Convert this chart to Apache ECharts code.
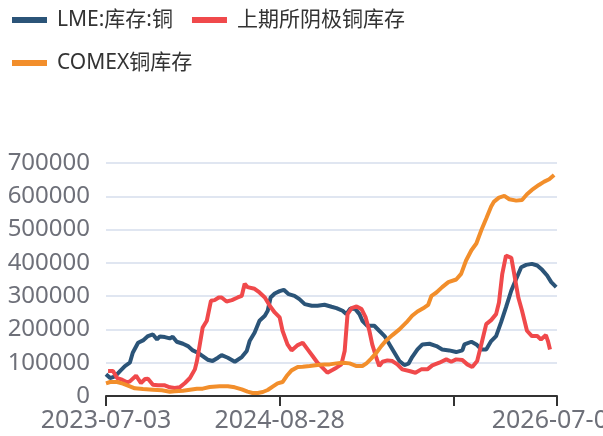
<!DOCTYPE html>
<html>
<head>
<meta charset="utf-8">
<script src="https://cdn.jsdelivr.net/npm/echarts@6/dist/echarts.min.js"></script>
<style>html,body{margin:0;padding:0;background:#fff;}#c{width:603px;height:436px;}</style>
</head>
<body>
<div id="c"></div>
<script>
// Category axis: daily dates from 2023-07-03 to 2026-07-03
const startDate = '2023-07-03';
const dayCount = 1097;
const labelDates = ['2023-07-03', '2024-08-28', '2026-07-03'];
const yTicks = [0, 100000, 200000, 300000, 400000, 500000, 600000, 700000];
const seriesNames = ['LME:库存:铜', '上期所阴极铜库存', 'COMEX铜库存'];

// LME:库存:铜 (day offset from start, value)
const lmeDays = [0,10,22,34,46,58,65,78,90,102,114,124,131,143,155,162,172,187,199,211,223,235,247,259,272,281,296,313,330,342,349,361,373,386,393,400,410,422,432,444,458,470,483,500,514,531,548,560,575,584,594,606,616,623,635,652,664,677,689,701,713,725,735,744,757,769,786,803,817,834,851,866,871,888,900,912,924,936,948,960,972,985,997,1009,1021,1035,1048,1060,1072,1082,1094];
const lmeVals = [65000,54000,59000,75000,90000,100000,130000,160000,167000,180000,185000,170000,179000,177000,173000,178000,163000,157000,150000,137000,130000,120000,109000,105000,115000,123000,115000,103000,117000,135000,165000,190000,226000,241000,256000,296000,308000,315000,319000,306000,301000,291000,276000,271000,271000,274000,268000,264000,256000,246000,263000,261000,246000,226000,211000,211000,196000,180000,155000,130000,105000,93000,97000,117000,140000,155000,157000,150000,140000,137000,132000,137000,155000,163000,155000,140000,140000,165000,180000,221000,266000,317000,352000,387000,394000,397000,392000,379000,362000,342000,327000];

// 上期所阴极铜库存
const shfeDays = [5,17,27,39,51,58,73,85,95,102,114,126,143,155,167,179,192,204,216,221,228,235,245,255,264,274,281,293,306,320,330,337,344,361,373,386,398,410,422,429,441,451,466,478,490,502,514,526,538,550,560,572,580,587,597,609,621,631,640,647,657,664,672,684,696,708,720,737,752,766,781,793,810,827,839,851,866,878,890,902,912,924,936,948,955,963,972,985,992,1002,1011,1023,1035,1048,1057,1069,1074,1079];
const shfeVals = [75000,75000,54000,49000,41000,44000,61000,39000,51000,52000,34000,32000,32000,26000,24000,26000,39000,54000,80000,105000,155000,206000,226000,286000,288000,296000,296000,284000,288000,296000,301000,337000,327000,322000,311000,296000,271000,251000,236000,196000,155000,137000,153000,160000,140000,120000,100000,85000,70000,78000,85000,95000,135000,246000,264000,269000,261000,236000,196000,155000,115000,90000,103000,107000,105000,95000,80000,75000,70000,80000,80000,92000,100000,110000,103000,110000,108000,95000,87000,105000,155000,216000,228000,246000,281000,367000,422000,415000,367000,296000,256000,196000,180000,180000,170000,183000,165000,140000];

// COMEX铜库存
const comexDays = [0,10,27,41,58,70,90,114,136,155,167,187,204,221,235,252,276,296,313,330,344,356,369,381,393,405,417,429,439,451,466,478,495,514,531,543,560,575,592,609,623,633,645,657,669,681,696,713,730,744,757,774,783,791,803,817,832,851,863,875,888,900,912,924,936,943,955,968,980,997,1011,1023,1035,1052,1065,1077,1089];
const comexVals = [38000,42000,42000,37000,29000,23000,21000,19000,17000,13000,14000,16000,19000,22000,22000,27000,29000,29000,26000,20000,13000,9000,9000,12000,18000,28000,38000,42000,60000,77000,87000,88000,90000,93000,95000,95000,98000,100000,98000,90000,90000,98000,113000,130000,150000,167000,183000,200000,221000,241000,254000,266000,274000,301000,311000,327000,342000,350000,367000,407000,438000,458000,498000,533000,569000,584000,596000,601000,591000,587000,589000,606000,619000,634000,644000,651000,664000];

const categories = [];
(function(){
  const d0 = new Date(startDate + 'T00:00:00Z');
  for (let i = 0; i < dayCount; i++) {
    const d = new Date(d0.getTime() + i * 86400000);
    categories.push(d.toISOString().slice(0, 10));
  }
})();
const labelIdx = labelDates.map(s => categories.indexOf(s));
const tickStep = labelIdx[1] - labelIdx[0];

function pairs(days, vals) { return days.map((d, i) => [categories[d], vals[i]]); }

const chart = echarts.init(document.getElementById('c'), null, {renderer: 'canvas'});
const FONT = '"Noto Sans", "Noto Sans CJK SC", sans-serif';
chart.setOption({
  animation: false,
  textStyle: {fontFamily: FONT},
  color: ['#2b5478', '#f0494b', '#f28e2b'],
  legend: {
    left: 7, top: 3, width: 430, itemGap: 19,
    itemWidth: 35, itemHeight: 6, icon: 'rect',
    textStyle: {fontSize: 21, lineHeight: 24, color: '#333', fontFamily: FONT, padding: [0, 0, 0, 5]},
    data: seriesNames
  },
  grid: {left: 106, right: 46, top: 163, bottom: 40, containLabel: false, outerBoundsMode: 'none'},
  xAxis: {
    type: 'category', data: categories, boundaryGap: false,
    axisLine: {lineStyle: {color: '#333', width: 2}},
    axisTick: {length: 10, lineStyle: {color: '#333', width: 2},
      interval: (i) => (i % tickStep === 0) || i === dayCount - 1},
    axisLabel: {fontSize: 25, color: '#6E7079', margin: 12, fontFamily: FONT,
      interval: (i) => labelIdx.indexOf(i) >= 0},
    splitLine: {show: false}
  },
  yAxis: {
    type: 'value', min: yTicks[0], max: yTicks[yTicks.length - 1], interval: yTicks[1] - yTicks[0],
    axisLine: {show: false}, axisTick: {show: false},
    axisLabel: {fontSize: 24, color: '#6E7079', margin: 16, fontFamily: FONT,
      formatter: (v) => String(v)},
    splitLine: {lineStyle: {color: '#E0E6F1', width: 2}}
  },
  series: [
    {name: seriesNames[0], type: 'line', data: pairs(lmeDays, lmeVals), symbol: 'none', lineStyle: {width: 4}},
    {name: seriesNames[1], type: 'line', data: pairs(shfeDays, shfeVals), symbol: 'none', lineStyle: {width: 4}},
    {name: seriesNames[2], type: 'line', data: pairs(comexDays, comexVals), symbol: 'none', lineStyle: {width: 4}}
  ]
});
</script>
</body>
</html>
